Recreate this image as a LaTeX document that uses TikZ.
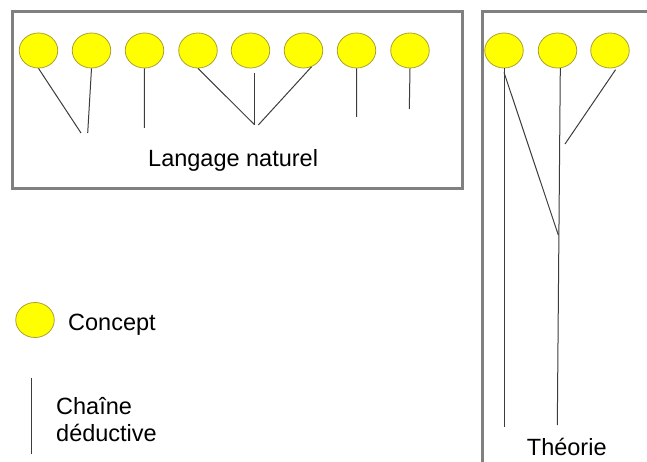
\documentclass[tikz,border=0pt]{standalone}
\usepackage{fontspec}
\setmainfont{Liberation Sans}
\usepackage{tikz}
\usetikzlibrary{shapes.geometric}
\definecolor{frameColor}{RGB}{128,128,128}
\definecolor{conceptFill}{RGB}{255,255,0}
\definecolor{conceptBorder}{RGB}{170,160,50}
\definecolor{chainColor}{RGB}{60,60,60}
\tikzstyle{diagram} = [x = 1pt, y = -1pt]
\tikzstyle{frameLine} = [color=frameColor, line width=3pt]
\tikzstyle{conceptStyle} = [ellipse, draw=conceptBorder, fill=conceptFill, line width=.8pt, minimum width=38.5pt, minimum height=35pt, inner sep=0pt]
\tikzstyle{chainLine} = [color=chainColor, line width=1pt]
\tikzstyle{labelText} = [font=\fontsize{23.5}{27}\selectfont, anchor=base west, inner sep=0pt, align=left]
\newcommand{\concept}[3]{\node [conceptStyle] (#1) at (#2, #3) {};}
\newcommand{\chain}[2]{\draw [chainLine] (#1) -- (#2);}

\begin{document}
\begin{tikzpicture}[diagram]
  \useasboundingbox (0,0) rectangle (647,462);
  \clip (0,0) rectangle (647,462);
  % frames
  \draw [frameLine] (12,12) rectangle (462,189);
  \draw [frameLine] (482,12) rectangle (670,490);
  % natural language concepts
  \foreach \name/\x in {c1/38.5, c2/91.5, c3/144.5, c4/198, c5/250.5, c6/303.5, c7/356.5, c8/410} {
    \concept{\name}{\x}{50.5}
  }
  \coordinate (j1) at (81,133);
  \coordinate (j2) at (87.7,133);
  \coordinate (j3) at (144.3,128);
  \coordinate (j4) at (254.3,124.5);
  \coordinate (j5) at (254.3,125);
  \coordinate (j6) at (258.3,125);
  \coordinate (j7) at (356.7,117);
  \coordinate (j8) at (409.3,109);
  \chain{c1.south}{j1}
  \chain{c2.south}{j2}
  \chain{c3.south}{j3}
  \chain{c4.south}{j4}
  \chain{[xshift=3.8pt,yshift=-4.7pt]c5.south}{j5}
  \chain{c6.-64}{j6}
  \chain{c7.south}{j7}
  \chain{c8.south}{j8}
  \node [labelText] (langage) at (148,166.7) {Langage naturel};
  % theory concepts
  \foreach \name/\x in {t1/504, t2/557.5, t3/610} {
    \concept{\name}{\x}{50.5}
  }
  \coordinate (e1) at (504,427);
  \coordinate (m) at (558.3,235);
  \coordinate (e2) at (557.3,425);
  \coordinate (m3) at (565,144);
  \chain{t1.south}{e1}
  \chain{[yshift=-4pt]t1.south}{m}
  \chain{t2.-81}{e2}
  \chain{[yshift=-2pt]t3.-72}{m3}
  \node [labelText] (theorie) at (526.7,455) {Théorie};
  % legend
  \concept{lc}{35}{320}
  \node [labelText] (concept) at (68,330) {Concept};
  \coordinate (ls) at (31.7,378);
  \coordinate (le) at (31.7,454);
  \chain{ls}{le}
  \node [labelText] (chaine) at (56,441) {Chaîne\\déductive};
\end{tikzpicture}
\end{document}
